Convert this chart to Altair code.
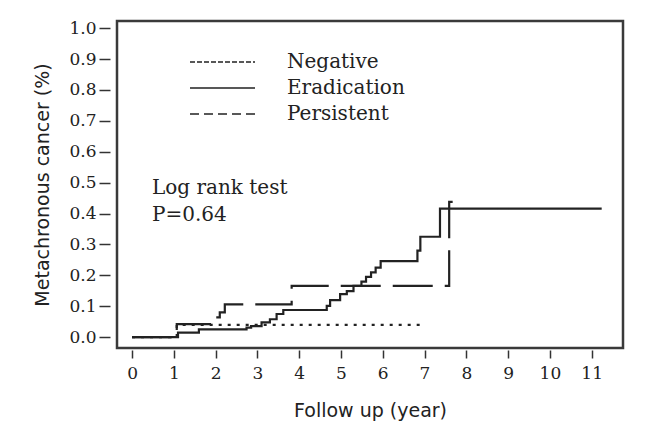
import altair as alt
import pandas as pd

groups = ["Negative", "Eradication", "Persistent"]

neg_t = [0, 1.07, 6.93]
neg_v = [0, 0.040, 0.040]

era_t = [0, 1.10, 1.60, 2.74, 2.85, 3.10, 3.30, 3.46, 3.62, 4.66, 4.74, 4.98, 5.14,
         5.30, 5.49, 5.60, 5.72, 5.83, 5.95, 6.83, 6.90, 7.37, 11.24]
era_v = [0, 0.015, 0.025, 0.031, 0.036, 0.048, 0.058, 0.075, 0.088, 0.101, 0.120, 0.139, 0.149,
         0.166, 0.180, 0.195, 0.210, 0.225, 0.246, 0.280, 0.325, 0.416, 0.416]

per_t = [0, 1.07, 2.00, 2.10, 2.22, 3.82, 7.59, 7.85]
per_v = [0, 0.042, 0.064, 0.080, 0.106, 0.166, 0.438, 0.438]

x_ticks = list(range(0, 12))
y_ticks = [round(i * 0.1, 1) for i in range(0, 11)]

annotation = ["Log rank test", "P=0.64"]

rows = []
for g, ts, vs in [("Negative", neg_t, neg_v), ("Eradication", era_t, era_v), ("Persistent", per_t, per_v)]:
    for i, (t, v) in enumerate(zip(ts, vs)):
        rows.append({"group": g, "t": t, "v": v, "i": i})
df = pd.DataFrame(rows)

serif = "DejaVu Serif"
sans = "DejaVu Sans"
ink = "#222222"

curve_dash = {"Negative": [3, 6], "Eradication": [1, 0], "Persistent": [40, 12]}
legend_dash = {"Negative": [5, 2], "Eradication": [1, 0], "Persistent": [9, 5]}

x_enc = alt.X("t:Q", scale=alt.Scale(domain=[-0.36, 11.75], nice=False, zero=False),
              axis=alt.Axis(values=x_ticks, format="d", title="Follow up (year)", grid=False,
                            domain=False, tickSize=8, offset=2, tickColor="#333333", tickWidth=1.5,
                            labelFont=serif, labelFontSize=17, labelColor=ink, labelPadding=7,
                            titleFont=sans, titleFontSize=19, titleFontWeight="normal",
                            titleColor=ink, titlePadding=20))
y_enc = alt.Y("v:Q", scale=alt.Scale(domain=[-0.035, 1.023], nice=False, zero=False),
              axis=alt.Axis(values=y_ticks, format=".1f", title="Metachronous cancer (%)", grid=False,
                            domain=False, tickSize=11, offset=7, tickColor="#333333", tickWidth=1.5,
                            labelFont=serif, labelFontSize=17, labelColor=ink, labelPadding=3,
                            titleFont=sans, titleFontSize=19, titleFontWeight="normal",
                            titleColor=ink, titlePadding=16))

base = alt.Chart(df)

curves = base.mark_line(interpolate="step-after", strokeWidth=2.2, color=ink, strokeCap="butt").encode(
    x=x_enc, y=y_enc, order="i:Q",
    strokeDash=alt.StrokeDash("group:N",
                              scale=alt.Scale(domain=groups, range=[curve_dash[g] for g in groups]),
                              legend=None),
)

layers = [curves]

# hand-drawn key, as in the original figure
key_rows = [41, 67, 93]
for g, yy in zip(groups, key_rows):
    kd = pd.DataFrame({"label": [g]})
    layers.append(
        alt.Chart(kd).mark_rule(color=ink, strokeWidth=1.6, strokeDash=legend_dash[g]).encode(
            x=alt.value(73), x2=alt.value(138), y=alt.value(yy)
        )
    )
    layers.append(
        alt.Chart(kd).mark_text(font=serif, fontSize=20, color=ink, align="left", baseline="middle").encode(
            text="label:N", x=alt.value(170), y=alt.value(yy)
        )
    )

for s, yy in zip(annotation, [173, 200]):
    layers.append(
        alt.Chart(pd.DataFrame({"s": [s]})).mark_text(
            font=serif, fontSize=20, color=ink, align="left", baseline="alphabetic"
        ).encode(text="s:N", x=alt.value(35), y=alt.value(yy))
    )

chart = alt.layer(*layers).properties(
    width=506, height=327,
    autosize=alt.AutoSizeParams(type="none"),
    padding={"left": 109, "top": 13, "right": 20, "bottom": 80},
).configure_view(
    stroke="#3a3a3a", strokeWidth=2.5
)

chart.save("out.html", embed_options={"renderer": "svg", "actions": False})
